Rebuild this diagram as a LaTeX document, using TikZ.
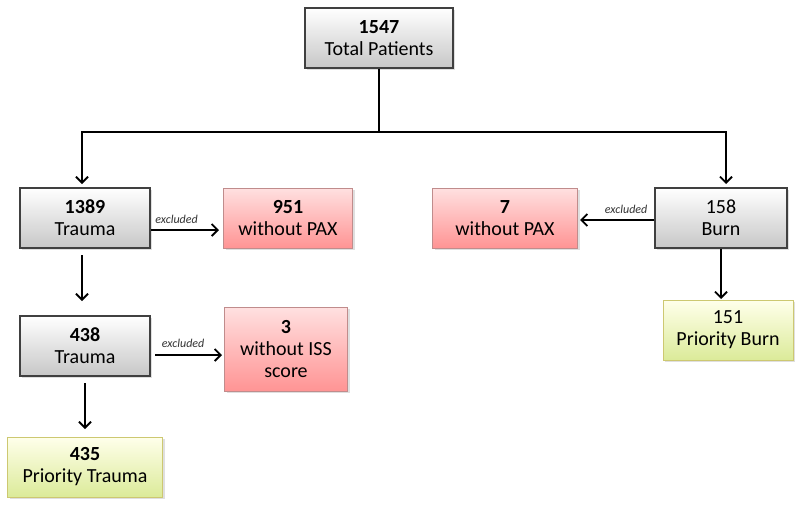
\documentclass[tikz,border=0pt]{standalone}
\usepackage{fontspec}
\setmainfont{Carlito}
\usetikzlibrary{arrows.meta,shadows}
\begin{document}
\begin{tikzpicture}[x=1pt,y=-1pt,
  box/.style={draw, line width=1.2pt, minimum width=#1, minimum height=60pt, align=center,
    font=\fontsize{20}{22}\selectfont, inner sep=2pt,
    drop shadow={shadow xshift=2pt, shadow yshift=-2pt, opacity=0.25}},
  graybox/.style={box=#1, draw=black!75, top color=white, bottom color=black!22},
  pinkbox/.style={box=#1, draw=red!45!black!45, top color=red!12, bottom color=red!42, line width=0.8pt},
  greenbox/.style={box=#1, draw=olive!45, top color=yellow!8!white, bottom color=lime!60!olive!40, line width=0.8pt},
  conn/.style={line width=1.8pt, -{Straight Barb[length=6pt,width=12pt,line width=1.8pt]}},
  trunk/.style={line width=1.8pt},
  exl/.style={font=\itshape\fontsize{12}{13}\selectfont, text=black!80}
]
\useasboundingbox (0,0) rectangle (800,507);
\fill[white] (0,0) rectangle (800,507);

\node[graybox=148pt] (tot) at (379,38) {\textbf{1547}\\Total Patients};
\node[graybox=130pt] (t1) at (85,218) {\textbf{1389}\\Trauma};
\node[pinkbox=129pt] (p1) at (288,218) {\textbf{951}\\without PAX};
\node[pinkbox=145pt] (p2) at (505,218) {\textbf{7}\\without PAX};
\node[graybox=132pt] (b1) at (721,218) {158\\Burn};
\node[graybox=130pt] (t2) at (85,346) {\textbf{438}\\Trauma};
\node[pinkbox=123pt, minimum height=84pt] (p3) at (286,349) {\textbf{3}\\without ISS\\score};
\node[greenbox=155pt] (g1) at (85,467) {\textbf{435}\\Priority Trauma};
\node[greenbox=130pt] (g2) at (728,330) {151\\Priority Burn};

\coordinate (split) at (379,132);
\coordinate (sl) at (82,132);
\coordinate (sr) at (726,132);
\coordinate (sle) at (82,184);
\coordinate (sre) at (726,184);
\draw[trunk] (tot.south) -- (split);
\draw[trunk, line cap=rect] (sl) -- (sr);
\draw[conn] (sl) -- (sle);
\draw[conn] (sr) -- (sre);

\coordinate (e1s) at (152,230);
\coordinate (e1e) at (219,230);
\coordinate (e2s) at (655,220);
\coordinate (e2e) at (580,220);
\coordinate (e3s) at (155,355);
\coordinate (e3e) at (222,355);
\draw[conn] (t1.east |- e1s) -- node[exl, above, pos=0.38, yshift=2pt] {excluded} (e1e);
\draw[conn] (b1.west |- e2s) -- node[exl, above, pos=0.38, yshift=2pt] {excluded} (e2e);
\draw[conn] (e3s) -- node[exl, above, pos=0.42, yshift=3pt] {excluded} (e3e);

\coordinate (d1s) at (82,255);
\coordinate (d1e) at (82,301);
\coordinate (d2s) at (85,383);
\coordinate (d2e) at (85,429);
\coordinate (d3e) at (721,299);
\draw[conn] (d1s) -- (d1e);
\draw[conn] (d2s) -- (d2e);
\draw[conn] (b1.south) -- (d3e);
\end{tikzpicture}
\end{document}
